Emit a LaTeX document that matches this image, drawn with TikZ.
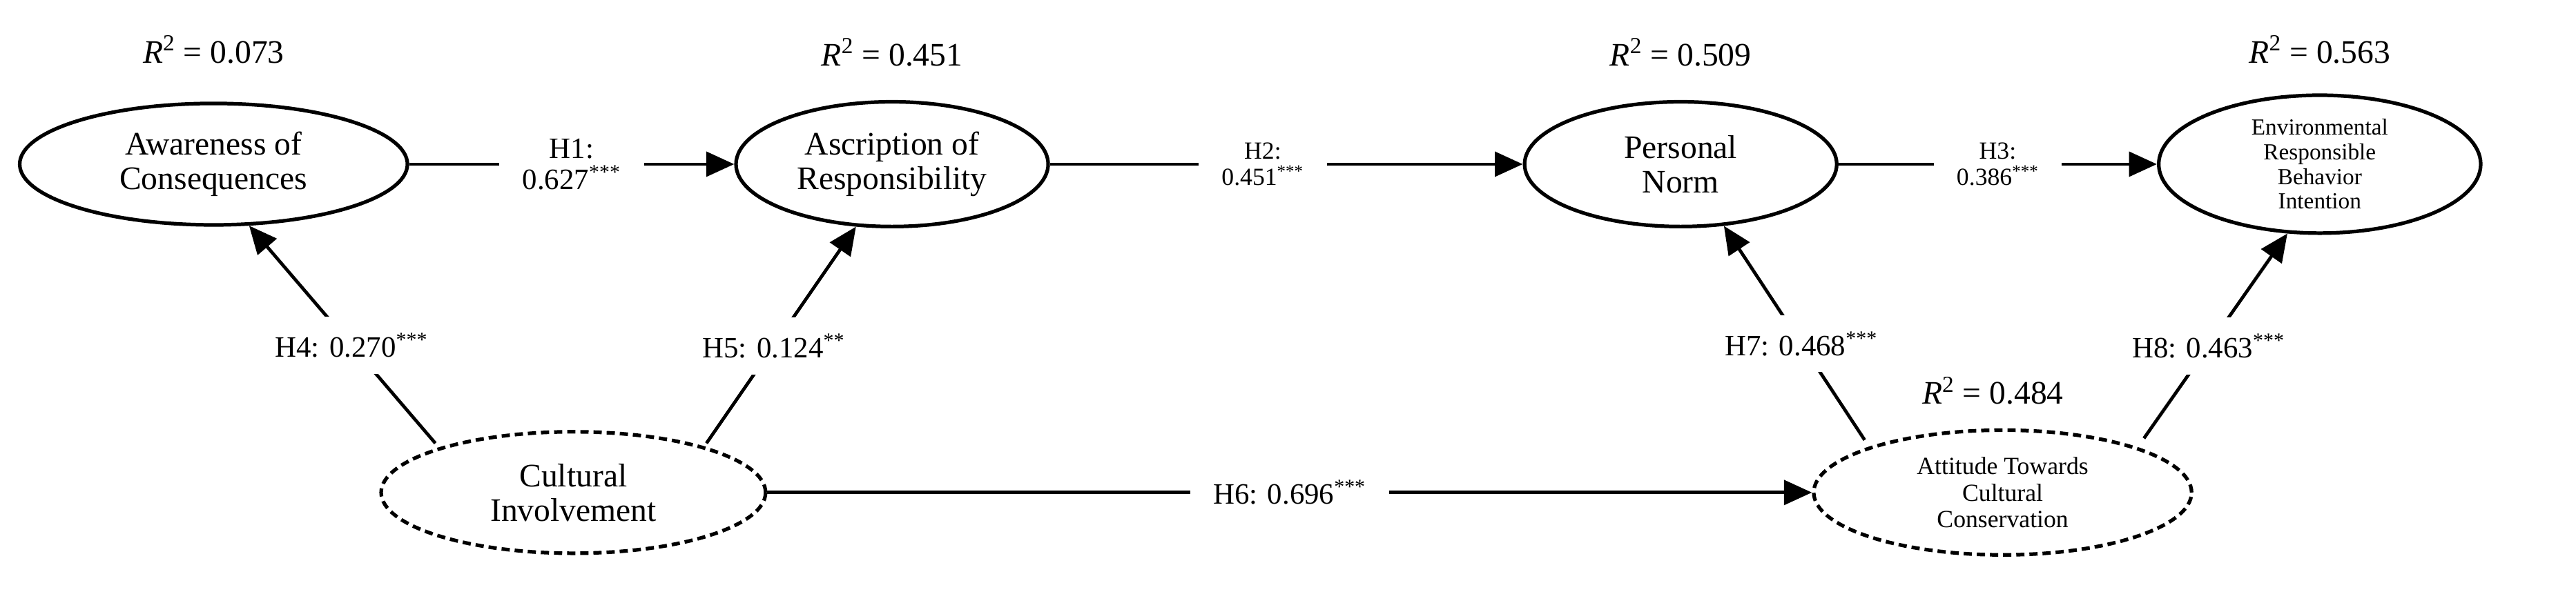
\documentclass[tikz,border=0pt]{standalone}
\usepackage{fontspec}
\setmainfont{Liberation Serif}
\usetikzlibrary{shapes.geometric,arrows.meta}
\begin{document}
\begin{tikzpicture}[x=1pt,y=-1pt,
  lv/.style={ellipse,draw,line width=2.2pt,inner sep=0pt,align=center,font=\fontsize{20}{21}\selectfont},
  dlv/.style={lv,dash pattern=on 5pt off 3pt},
  lab/.style={fill=white,inner sep=3pt,align=center,font=\fontsize{18}{19}\selectfont},
  rsq/.style={font=\fontsize{20}{21}\selectfont},
  arr/.style={line width=2pt,-{Triangle[length=17pt,width=15pt]}}]
\useasboundingbox (0,0) rectangle (1568,367);
\node[lv,minimum width=236,minimum height=74] (aw) at (130,100) {Awareness of\\Consequences};
\node[lv,minimum width=190,minimum height=76] (as) at (543,100) {Ascription of\\Responsibility};
\node[lv,minimum width=190,minimum height=76] (pn) at (1023,100) {Personal\\Norm};
\node[lv,minimum width=196,minimum height=84,font=\fontsize{14}{15}\selectfont] (eb) at (1412,100) {Environmental\\Responsible\\Behavior\\Intention};
\node[dlv,minimum width=234,minimum height=74] (ci) at (349,300) {Cultural\\Involvement};
\node[dlv,minimum width=230,minimum height=76,font=\fontsize{15}{16}\selectfont] (at) at (1219,300) {Attitude Towards\\Cultural\\Conservation};
\node[rsq] (r1) at (130,30) {\textit{R}\textsuperscript{2} = 0.073};
\node[rsq] (r2) at (543,32) {\textit{R}\textsuperscript{2} = 0.451};
\node[rsq] (r3) at (1023,32) {\textit{R}\textsuperscript{2} = 0.509};
\node[rsq] (r4) at (1412,30) {\textit{R}\textsuperscript{2} = 0.563};
\node[rsq] (r5) at (1213,238) {\textit{R}\textsuperscript{2} = 0.484};
\draw[arr] (aw.east) -- (as.west) node[lab,pos=0.5,inner xsep=14pt] {H1:\\0.627\textsuperscript{***}};
\draw[arr] (as.east) -- (pn.west) node[lab,pos=0.45,inner xsep=14pt,font=\fontsize{15}{16}\selectfont] {H2:\\0.451\textsuperscript{***}};
\draw[arr] (pn.east) -- (eb.west) node[lab,pos=0.5,inner xsep=14pt,font=\fontsize{15}{16}\selectfont] {H3:\\0.386\textsuperscript{***}};
\draw[arr] (ci.east) -- (at.west) node[lab,pos=0.5,inner xsep=14pt] {H6: 0.696\textsuperscript{***}};
\coordinate (c4) at (265,270); \coordinate (c5) at (430,270);
\coordinate (c7) at (1135,268); \coordinate (c8) at (1305,267);
\draw[arr] (c4) -- (aw.-60) node[lab,pos=0.45,inner ysep=10pt] {H4: 0.270\textsuperscript{***}};
\draw[arr] (c5) -- (as.-120) node[lab,pos=0.45,inner ysep=10pt] {H5: 0.124\textsuperscript{**}};
\draw[arr] (c7) -- (pn.-55) node[lab,pos=0.45,inner ysep=10pt] {H7: 0.468\textsuperscript{***}};
\draw[arr] (c8) -- (eb.-115) node[lab,pos=0.45,inner ysep=10pt] {H8: 0.463\textsuperscript{***}};
\end{tikzpicture}
\end{document}
